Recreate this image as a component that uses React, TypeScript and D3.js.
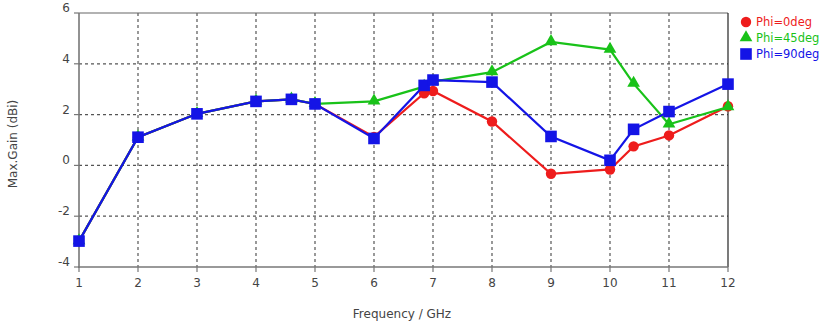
import React from "react";
import * as d3 from "d3";

const freqs = [1, 2, 3, 4, 4.6, 5, 6, 6.85, 7, 8, 9, 10, 10.4, 11, 12];
const phi0 = [-2.98, 1.11, 2.03, 2.52, 2.6, 2.42, 1.12, 2.84, 2.93, 1.73, -0.33, -0.16, 0.75, 1.18, 2.33];
const phi45 = [-2.98, 1.11, 2.03, 2.52, 2.6, 2.42, 2.52, 3.1, 3.3, 3.67, 4.86, 4.56, 3.22, 1.62, 2.3];
const phi90 = [-2.98, 1.11, 2.03, 2.52, 2.6, 2.42, 1.06, 3.15, 3.36, 3.28, 1.14, 0.2, 1.42, 2.12, 3.2];
const xTicks = [1, 2, 3, 4, 5, 6, 7, 8, 9, 10, 11, 12];
const yTicks = [-4, -2, 0, 2, 4, 6];
const seriesNames = ["Phi=0deg", "Phi=45deg", "Phi=90deg"];

const W = 820, H = 329;
const L = 79, R = 728, T = 13, B = 267;
const FONT = "DejaVu Sans, sans-serif";
const FS = 12;

export default function App() {
  const x = d3.scaleLinear().domain([1, 12]).range([L, R]);
  const y = d3.scaleLinear().domain([-4, 6]).range([B, T]);
  const series = [
    { name: seriesNames[0], vals: phi0, color: "#ee1c1c", shape: "circle" },
    { name: seriesNames[1], vals: phi45, color: "#19c219", shape: "triangle" },
    { name: seriesNames[2], vals: phi90, color: "#1414e6", shape: "square" },
  ];
  const line = d3.line<number>().x((_, i) => x(freqs[i])).y((d) => y(d));
  const marker = (shape: string, cx: number, cy: number, color: string, key: any) => {
    if (shape === "circle") return <circle key={key} cx={cx} cy={cy} r={5.2} fill={color} />;
    if (shape === "square") return <rect key={key} x={cx - 5.8} y={cy - 5.8} width={11.6} height={11.6} fill={color} />;
    const s = d3.symbol().type(d3.symbolTriangle).size(70)();
    return <path key={key} d={s || ""} transform={`translate(${cx},${cy - 0.5})`} fill={color} />;
  };
  return (
    <svg width={W} height={H} style={{ position: "absolute", left: 0, top: 0, background: "#fff" }}>
      <rect x={0} y={0} width={W} height={H} fill="#fff" />
      {xTicks.slice(1, -1).map((t) => (
        <line key={"gx" + t} x1={x(t)} x2={x(t)} y1={T} y2={B} stroke="#555" strokeWidth={1.2} strokeDasharray="3,3" />
      ))}
      {yTicks.slice(1, -1).map((t) => (
        <line key={"gy" + t} x1={L} x2={R} y1={y(t)} y2={y(t)} stroke="#555" strokeWidth={1.2} strokeDasharray="3,3" />
      ))}
      <line x1={L} x2={R} y1={T} y2={T} stroke="#666" strokeWidth={1.2} />
      <line x1={R} x2={R} y1={T} y2={B} stroke="#222" strokeWidth={1.2} />
      <line x1={L} x2={L} y1={T} y2={B + 1} stroke="#777" strokeWidth={1.6} />
      <line x1={L - 1} x2={R} y1={B} y2={B} stroke="#777" strokeWidth={1.6} />
      {xTicks.map((t) => (
        <g key={"xt" + t}>
          <line x1={x(t)} x2={x(t)} y1={B} y2={B + 5} stroke="#777" strokeWidth={1.2} />
          <text x={x(t)} y={B + 20} textAnchor="middle" fontFamily={FONT} fontSize={FS} fill="#444">{t}</text>
        </g>
      ))}
      {yTicks.map((t) => (
        <g key={"yt" + t}>
          <line x1={L - 5} x2={L} y1={y(t)} y2={y(t)} stroke="#777" strokeWidth={1.2} />
          <text x={L - 9} y={y(t) - 1} textAnchor="end" fontFamily={FONT} fontSize={FS} fill="#444">{t}</text>
        </g>
      ))}
      <text x={402} y={318} textAnchor="middle" fontFamily={FONT} fontSize={FS} fill="#444">Frequency / GHz</text>
      <text transform={`translate(17,${144}) rotate(-90)`} textAnchor="middle" fontFamily={FONT} fontSize={FS} fill="#444">Max.Gain (dBi)</text>
      {series.map((s) => (
        <g key={s.name}>
          <path d={line(s.vals) || ""} fill="none" stroke={s.color} strokeWidth={2.2} />
          {s.vals.map((v, i) => marker(s.shape, x(freqs[i]), y(v), s.color, i))}
        </g>
      ))}
      {series.map((s, i) => (
        <g key={"lg" + i}>
          {marker(s.shape, 746, 22 + i * 16, s.color, "m")}
          <text x={756} y={26 + i * 16} fontFamily={FONT} fontSize={11.5} fill={s.color}>{s.name}</text>
        </g>
      ))}
    </svg>
  );
}
